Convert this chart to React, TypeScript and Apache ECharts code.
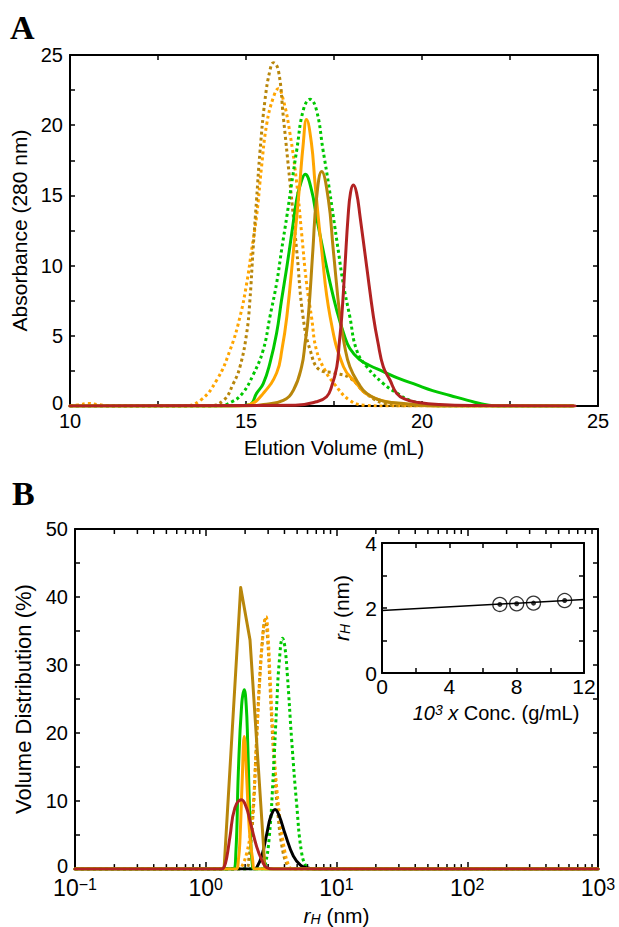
import React, { useEffect, useRef } from 'react';
import * as echarts from 'echarts';

// ---------- Panel A: SEC elution profiles (Elution volume mL, Absorbance) ----------
const aDotOrange = [[10,0],[10.3,0.1],[10.5,0.18],[10.8,0.1],[11.2,0],[13.2,0],[13.7,0.4],[14.17,1.85],[14.55,4.0],[14.83,6.36],[15.02,8.75],[15.16,11.1],[15.3,13.5],[15.44,17.0],[15.59,20.1],[15.78,22.0],[15.92,22.6],[16.06,21.8],[16.25,19.4],[16.44,15.9],[16.58,12.3],[16.72,8.75],[16.86,6.36],[17.0,4.0],[17.24,2.56],[17.5,1.6],[17.95,0.4],[18.4,0.05],[19,0],[24.3,0]];
const aDotBrown = [[10,0],[13.9,0],[14.36,0.4],[14.64,1.6],[14.83,2.8],[15.02,5.2],[15.11,7.5],[15.2,11.1],[15.3,14.7],[15.4,18.2],[15.54,21.8],[15.68,23.9],[15.78,24.45],[15.92,23.9],[16.06,20.6],[16.25,15.9],[16.44,11.1],[16.62,6.36],[16.82,4.0],[17.1,2.56],[17.5,2.35],[17.95,2.0],[18.4,0.9],[18.9,0.2],[19.5,0],[24.3,0]];
const aDotGreen = [[10,0],[14.2,0],[14.6,0.3],[14.9,0.9],[15.2,2.2],[15.49,4.0],[15.68,6.36],[15.87,8.75],[16.01,11.1],[16.16,13.5],[16.3,15.9],[16.44,18.2],[16.63,21.1],[16.82,21.85],[17.0,21.1],[17.19,18.2],[17.34,15.9],[17.48,13.5],[17.62,11.1],[17.76,8.75],[17.95,6.36],[18.14,4.0],[18.43,2.8],[18.9,1.6],[19.3,0.9],[19.66,0.4],[20.2,0.1],[20.6,0],[24.3,0]];
const aOrange = [[10,0],[14.8,0],[15.1,0.1],[15.49,0.9],[15.87,2.35],[16.02,4.0],[16.16,6.36],[16.35,11.1],[16.53,15.9],[16.62,18.5],[16.72,20.4],[16.86,18.7],[16.96,15.9],[17.15,11.1],[17.39,6.36],[17.77,2.8],[18.14,1.6],[18.4,0.9],[19.0,0.3],[19.8,0.1],[20.5,0],[24.3,0]];
const aGreen = [[10,0],[14.6,0],[15.1,0.1],[15.3,0.9],[15.49,1.6],[15.68,3.05],[15.87,5.2],[16.01,7.55],[16.16,9.9],[16.3,12.3],[16.44,14.7],[16.56,15.9],[16.68,16.5],[16.86,15.4],[17.0,13.5],[17.19,11.1],[17.39,8.75],[17.58,6.8],[17.77,5.2],[17.95,4.1],[18.24,3.28],[18.5,2.9],[18.9,2.45],[19.3,2.0],[19.85,1.5],[20.3,1.1],[20.8,0.75],[21.3,0.4],[21.9,0.05],[22.2,0],[24.3,0]];
const aBrown = [[10,0],[15.0,0],[15.5,0.1],[16.06,0.4],[16.35,1.14],[16.58,2.8],[16.68,4.5],[16.77,6.36],[16.9,11.1],[17.0,14.7],[17.15,16.7],[17.34,14.7],[17.48,11.1],[17.67,6.36],[17.8,4.3],[17.95,2.8],[18.2,1.6],[18.43,0.9],[18.9,0.35],[19.4,0.2],[20,0.05],[20.5,0],[24.3,0]];
const aRed = [[10,0],[16.4,0.05],[17.0,0.3],[17.29,0.66],[17.43,1.37],[17.58,2.8],[17.65,4.5],[17.72,6.36],[17.81,9.9],[17.9,13.5],[17.97,15.2],[18.05,15.74],[18.14,15.2],[18.24,13.5],[18.43,9.9],[18.62,6.36],[18.75,4.5],[18.9,2.8],[19.09,1.85],[19.28,0.9],[19.5,0.5],[19.9,0.25],[20.5,0.1],[21.5,0.03],[24.35,0]];

// ---------- Panel B: DLS volume distributions (r_H nm, %) ----------
const bDotOrange = [[0.1,0],[1.8,0],[1.88,0.3],[2.06,2.4],[2.2,5.5],[2.31,9.5],[2.45,19],[2.6,28.5],[2.75,35],[2.89,37.1],[3.0,34],[3.1,28.5],[3.29,19],[3.59,9.5],[4.04,2.4],[4.4,0.2],[4.6,0],[1000,0]];
const bDotBrown = [[0.1,0],[2.0,0],[2.15,2.0],[2.3,8],[2.42,17],[2.55,26],[2.7,33],[2.85,36.7],[2.98,33.5],[3.1,27],[3.3,17],[3.55,8.5],[3.9,2.5],[4.3,0.2],[4.5,0],[1000,0]];
const bDotGreen = [[0.1,0],[2.7,0],[2.84,0.5],[3.06,4.7],[3.29,14.2],[3.48,23.7],[3.65,30.5],[3.87,33.95],[4.02,32.8],[4.21,28.5],[4.54,19],[4.96,9.5],[5.41,2.4],[5.9,0.2],[6.2,0],[1000,0]];
const bBlack = [[0.1,0],[2.35,0],[2.45,0.2],[2.68,1.9],[2.93,5.2],[3.15,7.8],[3.39,8.78],[3.65,7.8],[4.04,5.2],[4.68,1.9],[5.3,0.6],[5.9,0.2],[7.0,0],[1000,0]];
const bBrown = [[0.1,0],[1.38,0],[1.85,41.4],[2.18,33.7],[2.84,0],[1000,0]];
const bGreen = [[0.1,0],[1.62,0],[1.7,2.5],[1.775,14.2],[1.88,24],[1.97,26.35],[2.04,24],[2.09,19],[2.18,7.1],[2.28,0.3],[2.4,0],[1000,0]];
const bOrange = [[0.1,0],[1.7,0],[1.78,1.5],[1.83,4.7],[1.9,13],[1.97,19.5],[2.05,14],[2.12,8],[2.18,4.7],[2.28,1.5],[2.38,0],[1000,0]];
const bRed = [[0.1,0],[1.3,0],[1.38,0.3],[1.45,1.8],[1.53,4.7],[1.67,9.0],[1.88,10.2],[2.05,9.0],[2.18,7.1],[2.45,3.3],[2.7,1.2],[2.93,0.2],[3.3,0],[1000,0]];
const bMinorTicks = [0.2,0.3,0.4,0.5,0.6,0.7,0.8,0.9,2,3,4,5,6,7,8,9,20,30,40,50,60,70,80,90,200,300,400,500,600,700,800,900];

// ---------- Inset: r_H vs concentration ----------
const concX = [7.0, 8.0, 9.0, 10.85];
const rH = [2.11, 2.13, 2.15, 2.23];
const fitX = [0, 12];
const fitY = [1.92, 2.26];

const FONT = '"Liberation Sans", Arial, Helvetica, sans-serif';
const BROWN = '#B8860B';
const ORANGE = '#FFA500';
const GREEN = '#00C800';
const RED = '#B22222';

const tickStyle = { color: '#000', width: 1.5 };

function valAxis(o: any) {
  const { gridIndex, position, min, max, interval, minorSplit, showLabel, labelSize, margin, name, nameGap, nameSize, nameTextStyle, tickLen, liftZero } = o;
  const fs = labelSize || 20;
  const axisLabel: any = { show: !!showLabel, fontSize: fs, color: '#000', fontFamily: FONT, margin: margin ?? 6 };
  if (liftZero) {
    axisLabel.formatter = (v: number) => (v === 0 ? '{z|0}' : '{d|' + v + '}');
    axisLabel.rich = {
      z: { fontSize: fs, lineHeight: fs, padding: [0, 0, liftZero, 0], color: '#000', fontFamily: FONT },
      d: { fontSize: fs, lineHeight: fs, color: '#000', fontFamily: FONT },
    };
  }
  return {
    gridIndex, position, type: 'value', min, max, interval,
    axisLine: { show: true, onZero: false, lineStyle: { color: '#000', width: 2 } },
    axisTick: { show: true, inside: true, length: tickLen || 5, lineStyle: tickStyle },
    minorTick: { show: true, splitNumber: minorSplit, length: tickLen || 5, lineStyle: tickStyle },
    splitLine: { show: false },
    axisLabel,
    name: name || '', nameLocation: 'middle', nameGap: nameGap || 30,
    nameTextStyle: nameTextStyle || { fontSize: nameSize || 20, color: '#000', fontFamily: FONT },
  };
}

function logAxis(o: any) {
  const { gridIndex, position, showLabel } = o;
  return {
    gridIndex, position, type: 'log', logBase: 10, min: 0.1, max: 1000, splitNumber: 4,
    axisLine: { show: true, onZero: false, lineStyle: { color: '#000', width: 2 } },
    axisTick: { show: true, inside: true, length: 7, lineStyle: tickStyle },
    splitLine: { show: false },
    axisLabel: {
      show: !!showLabel, margin: 7,
      formatter: (v: number) => {
        const e = Math.round(Math.log10(v));
        return '{b|10}{s|' + (e < 0 ? '\u2212' + -e : String(e)) + '}';
      },
      rich: {
        b: { fontSize: 23, lineHeight: 23, verticalAlign: 'bottom', color: '#000', fontFamily: FONT },
        s: { fontSize: 16, lineHeight: 16, padding: [0, 0, 8, 0], verticalAlign: 'top', color: '#000', fontFamily: FONT },
      },
    },
    name: o.name || '', nameLocation: 'middle', nameGap: o.nameGap || 30,
    nameTextStyle: o.nameTextStyle,
  };
}

function ln(data: number[][], color: string, dotted: boolean, xi: number, yi: number, z: number, smooth: number | boolean = 0.45) {
  return {
    type: 'line', data, xAxisIndex: xi, yAxisIndex: yi, symbol: 'none', showSymbol: false,
    smooth, z,
    lineStyle: { color, width: 3, type: dotted ? [3, 3] : 'solid', cap: dotted ? 'butt' : 'round', join: 'round' },
  };
}

const subRich = (fs: number, sfs: number) => ({
  i: { fontSize: fs, lineHeight: fs, fontStyle: 'italic', verticalAlign: 'top', color: '#000', fontFamily: FONT },
  sub: { fontSize: sfs, lineHeight: sfs, fontStyle: 'italic', padding: [Math.round(fs * 0.5), 0, 0, 0], verticalAlign: 'bottom', color: '#000', fontFamily: FONT },
  n: { fontSize: fs, lineHeight: fs, verticalAlign: 'top', color: '#000', fontFamily: FONT },
});

const option: any = {
  animation: false,
  backgroundColor: '#fff',
  grid: [
    { left: 70, top: 55, width: 528, height: 351 },
    { left: 75, top: 529, width: 523, height: 351 },
    { left: 382, top: 543, width: 202, height: 130, show: true, backgroundColor: '#fff', borderWidth: 0 },
  ],
  xAxis: [
    valAxis({ gridIndex: 0, position: 'bottom', min: 10, max: 25, interval: 5, minorSplit: 2, showLabel: true, margin: 5,
      name: 'Elution Volume (mL)', nameGap: 32, nameSize: 20 }),
    valAxis({ gridIndex: 0, position: 'top', min: 10, max: 25, interval: 5, minorSplit: 2 }),
    logAxis({ gridIndex: 1, position: 'bottom', showLabel: true, name: '{i|r}{sub|H}{n| (nm)}', nameGap: 22,
      nameTextStyle: { rich: subRich(21, 14) } }),
    logAxis({ gridIndex: 1, position: 'top' }),
    valAxis({ gridIndex: 2, position: 'bottom', min: 0, max: 12, interval: 4, minorSplit: 2, showLabel: true, margin: 3, labelSize: 21,
      name: '{it|10}{sup|3}{it| x}{n| Conc. (g/mL)}', nameGap: 30,
      nameTextStyle: {
        padding: [0, 0, 0, 26],
        rich: {
          it: { fontSize: 20, lineHeight: 20, fontStyle: 'italic', verticalAlign: 'bottom', color: '#000', fontFamily: FONT },
          sup: { fontSize: 14, lineHeight: 14, fontStyle: 'italic', padding: [0, 0, 10, 0], verticalAlign: 'top', color: '#000', fontFamily: FONT },
          n: { fontSize: 20, lineHeight: 20, verticalAlign: 'bottom', color: '#000', fontFamily: FONT },
        },
      } }),
    valAxis({ gridIndex: 2, position: 'top', min: 0, max: 12, interval: 4, minorSplit: 2 }),
  ],
  yAxis: [
    valAxis({ gridIndex: 0, position: 'left', min: 0, max: 25, interval: 5, minorSplit: 2, showLabel: true, margin: 7, liftZero: 7,
      name: 'Absorbance (280 nm)', nameGap: 37, nameSize: 21 }),
    valAxis({ gridIndex: 0, position: 'right', min: 0, max: 25, interval: 5, minorSplit: 2 }),
    valAxis({ gridIndex: 1, position: 'left', min: 0, max: 50, interval: 10, minorSplit: 2, showLabel: true, margin: 7, liftZero: 7,
      name: 'Volume Distribution (%)', nameGap: 35, nameSize: 22 }),
    valAxis({ gridIndex: 1, position: 'right', min: 0, max: 50, interval: 10, minorSplit: 2 }),
    valAxis({ gridIndex: 2, position: 'left', min: 0, max: 4, interval: 2, minorSplit: 2, showLabel: true, margin: 5, labelSize: 21,
      name: '{i|r}{sub|H}{n| (nm)}', nameGap: 30, nameTextStyle: { rich: subRich(21, 14) } }),
    valAxis({ gridIndex: 2, position: 'right', min: 0, max: 4, interval: 2, minorSplit: 2 }),
  ],
  series: [
    // Panel A
    ln(aDotOrange, ORANGE, true, 0, 0, 2),
    ln(aDotBrown, BROWN, true, 0, 0, 2),
    ln(aDotGreen, GREEN, true, 0, 0, 2),
    ln(aGreen, GREEN, false, 0, 0, 3),
    ln(aOrange, ORANGE, false, 0, 0, 3),
    ln(aBrown, BROWN, false, 0, 0, 3),
    ln(aRed, RED, false, 0, 0, 4),
    // Panel B
    ln(bDotBrown, BROWN, true, 2, 2, 2),
    ln(bDotOrange, ORANGE, true, 2, 2, 2),
    ln(bDotGreen, GREEN, true, 2, 2, 2),
    ln(bBlack, '#000', false, 2, 2, 3),
    ln(bBrown, BROWN, false, 2, 2, 3, false),
    ln(bGreen, GREEN, false, 2, 2, 3),
    ln(bOrange, ORANGE, false, 2, 2, 3),
    ln(bRed, RED, false, 2, 2, 4),
    {
      type: 'custom', xAxisIndex: 2, yAxisIndex: 2, z: 1, clip: false, silent: true,
      data: bMinorTicks.map((v) => [v, 0]),
      encode: { x: 0, y: 1 },
      renderItem: (params: any, api: any) => {
        const v = api.value(0);
        const b = api.coord([v, 0]);
        const t = api.coord([v, 50]);
        const st = { stroke: '#000', lineWidth: 1.5 };
        return {
          type: 'group',
          children: [
            { type: 'line', shape: { x1: b[0], y1: b[1], x2: b[0], y2: b[1] - 5 }, style: st },
            { type: 'line', shape: { x1: t[0], y1: t[1], x2: t[0], y2: t[1] + 5 }, style: st },
          ],
        };
      },
    },
    // Inset
    {
      type: 'line', xAxisIndex: 4, yAxisIndex: 4, symbol: 'none', z: 5,
      data: fitX.map((x, i) => [x, fitY[i]]),
      lineStyle: { color: '#000', width: 1.5 },
    },
    {
      type: 'scatter', xAxisIndex: 4, yAxisIndex: 4, z: 6, symbol: 'circle', symbolSize: 14,
      data: concX.map((x, i) => [x, rH[i]]),
      itemStyle: { color: 'rgba(0,0,0,0)', borderColor: '#000', borderWidth: 1.3 },
    },
    {
      type: 'scatter', xAxisIndex: 4, yAxisIndex: 4, z: 7, symbol: 'circle', symbolSize: 5,
      data: concX.map((x, i) => [x, rH[i]]),
      itemStyle: { color: '#000' },
    },
  ],
  graphic: [
    { type: 'text', x: 10, y: 27, style: { text: 'A', fontSize: 34, fontWeight: 'bold', fontFamily: '"Liberation Serif", "Times New Roman", serif', fill: '#000', verticalAlign: 'middle' } },
    { type: 'text', x: 12, y: 493, style: { text: 'B', fontSize: 34, fontWeight: 'bold', fontFamily: '"Liberation Serif", "Times New Roman", serif', fill: '#000', verticalAlign: 'middle' } },
  ],
};

export default function App() {
  const ref = useRef<HTMLDivElement>(null);
  useEffect(() => {
    const chart = echarts.init(ref.current!, null, { renderer: 'svg' });
    chart.setOption(option);
    return () => chart.dispose();
  }, []);
  return <div ref={ref} style={{ position: 'absolute', left: 0, top: 0, width: 619, height: 927, background: '#fff' }} />;
}
